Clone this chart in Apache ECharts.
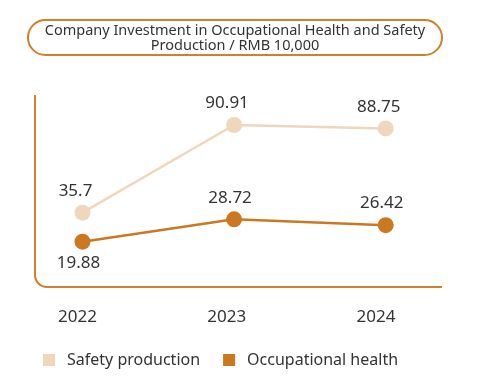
<!DOCTYPE html>
<html>
<head>
<meta charset="utf-8">
<script src="https://cdn.jsdelivr.net/npm/echarts@6/dist/echarts.min.js"></script>
<style>html,body{margin:0;padding:0;background:#fff}#c{width:486px;height:380px}</style>
</head>
<body>
<div id="c"></div>
<script>
const categories = ['2022', '2023', '2024'];
const safetyProduction = [35.7, 90.91, 88.75];
const occupationalHealth = [19.88, 28.72, 26.42];
const seriesNames = ['Safety production', 'Occupational health'];
const titleText = 'Company Investment in Occupational Health and Safety\nProduction / RMB 10,000';

const lightColor = '#f0d6ba';
const darkColor = '#cc7820';
const frameColor = '#d17f2a';
const textColor = '#333333';
const fontFamily = '"Noto Sans", "Open Sans", sans-serif';

const frameStyle = {fill: 'none', stroke: frameColor, lineWidth: 2};

const chart = echarts.init(document.getElementById('c'), null, {renderer: 'canvas'});
chart.setOption({
  animation: false,
  title: {
    text: titleText,
    left: 235, top: 20, textAlign: 'center',
    padding: [3, 0],
    textStyle: {fontSize: 14.5, lineHeight: 15, fontWeight: 'normal', color: textColor, fontFamily: fontFamily}
  },
  graphic: [
    {type: 'rect', shape: {x: 28, y: 20, width: 414, height: 35, r: 17.5}, style: frameStyle, z: 10},
    {type: 'line', shape: {x1: 35, y1: 95, x2: 35, y2: 275}, style: frameStyle, z: 10},
    {type: 'arc', shape: {cx: 47, cy: 275, r: 12, startAngle: Math.PI / 2, endAngle: Math.PI, clockwise: true}, style: frameStyle, z: 10},
    {type: 'line', shape: {x1: 47, y1: 287, x2: 442, y2: 287}, style: frameStyle, z: 10}
  ],
  legend: {
    left: 43, top: 352, padding: 0, itemWidth: 12, itemHeight: 12, itemGap: 23,
    icon: 'rect',
    data: seriesNames,
    textStyle: {fontSize: 16, color: textColor, fontFamily: fontFamily, padding: [0, 0, 0, 7]}
  },
  grid: [
    {left: 82.5, right: 100.3, top: 95, bottom: 93},
    {left: 77.5, right: 110, top: 95, bottom: 93}
  ],
  xAxis: [
    {type: 'category', data: categories, boundaryGap: false, gridIndex: 0,
     axisLine: {show: false}, axisTick: {show: false}, axisLabel: {show: false}, splitLine: {show: false}},
    {type: 'category', data: categories, boundaryGap: false, gridIndex: 1,
     axisLine: {show: false}, axisTick: {show: false}, splitLine: {show: false},
     axisLabel: {show: true, margin: 22, fontSize: 17, color: textColor, fontFamily: fontFamily}}
  ],
  yAxis: [
    {type: 'value', gridIndex: 0, min: -11.1, max: 109.8, show: false, splitLine: {show: false}},
    {type: 'value', gridIndex: 0, min: 2.0, max: 77.8, show: false, splitLine: {show: false}},
    {type: 'value', gridIndex: 1, min: 0, max: 1, show: false, splitLine: {show: false}}
  ],
  series: [
    {name: seriesNames[0], type: 'line', xAxisIndex: 0, yAxisIndex: 0, data: safetyProduction,
     symbol: 'circle', symbolSize: 16,
     lineStyle: {width: 2.5, color: lightColor}, itemStyle: {color: lightColor},
     label: {show: true, position: 'top', distance: 5, offset: [-7, 0], fontSize: 17, color: textColor, fontFamily: fontFamily}},
    {name: seriesNames[1], type: 'line', xAxisIndex: 0, yAxisIndex: 1,
     data: occupationalHealth.map((v, i) => i === 0 ? {value: v, label: {position: 'bottom'}} : v),
     symbol: 'circle', symbolSize: 16,
     lineStyle: {width: 2.5, color: darkColor}, itemStyle: {color: darkColor},
     label: {show: true, position: 'top', distance: 5, offset: [-4, 0], fontSize: 17, color: textColor, fontFamily: fontFamily}}
  ]
});
</script>
</body>
</html>
